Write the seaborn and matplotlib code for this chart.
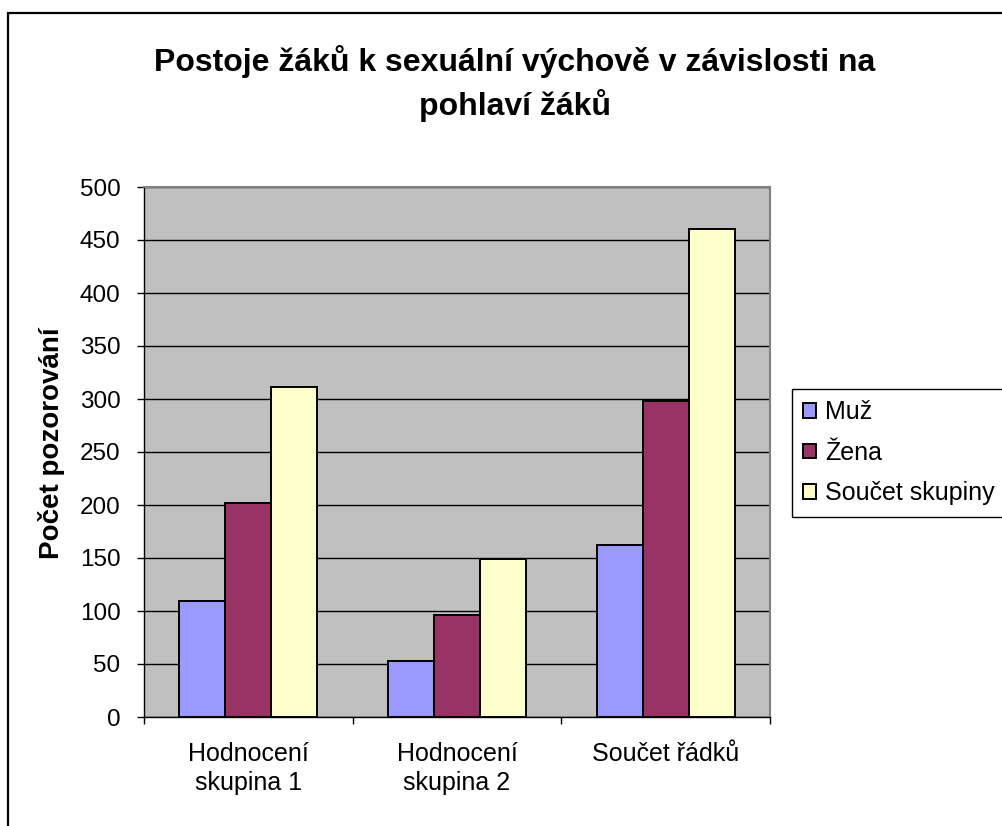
import matplotlib
matplotlib.use("Agg")
import matplotlib.pyplot as plt
import pandas as pd
import seaborn as sns
from matplotlib.patches import Rectangle

categories = ["Hodnocení\nskupina 1", "Hodnocení\nskupina 2", "Součet řádků"]
series_names = ["Muž", "Žena", "Součet skupiny"]
muz = [109, 53, 162]
zena = [202, 96, 298]
soucet = [311, 149, 460]
y_ticks = [0, 50, 100, 150, 200, 250, 300, 350, 400, 450, 500]

colors = ["#9999FF", "#993366", "#FFFFCC"]

df = pd.DataFrame({
    "kategorie": categories * 3,
    "skupina": [s for s in series_names for _ in categories],
    "pocet": muz + zena + soucet,
})

sns.set_style("white")
plt.rcParams["font.family"] = ["Liberation Sans", "DejaVu Sans"]
plt.rcParams["text.color"] = "black"
plt.rcParams["xtick.color"] = "black"
plt.rcParams["ytick.color"] = "black"

W, H = 1003, 826
fig = plt.figure(figsize=(W / 100, H / 100), dpi=100)
ax = fig.add_axes([144 / W, 109 / H, 626 / W, 530 / H])
ax.set_facecolor("#C0C0C0")

sns.barplot(
    data=df, x="kategorie", y="pocet", hue="skupina",
    hue_order=series_names, palette=colors, saturation=1,
    width=0.66, edgecolor="black", linewidth=1.4, ax=ax,
)

ax.set_ylim(0, 500)
ax.set_xlim(-0.5, 2.5)
ax.set_yticks(y_ticks)
ax.yaxis.grid(True, color="black", linewidth=1.0)
ax.set_axisbelow(True)
ax.set_xlabel("")
ax.set_ylabel("")

ax.tick_params(axis="y", which="major", direction="out", length=5, width=1,
               color="black", labelsize=17.5, pad=12, left=True)
ax.set_xticks([0, 1, 2])
ax.set_xticklabels(categories, fontsize=18, linespacing=1.25)
ax.tick_params(axis="x", which="major", length=0, pad=18)
ax.set_xticks([-0.5, 0.5, 1.5, 2.5], minor=True)
ax.tick_params(axis="x", which="minor", direction="out", length=5, width=1,
               color="black", bottom=True)

for side in ["top", "right"]:
    ax.spines[side].set_color("#808080")
    ax.spines[side].set_linewidth(1.5)
for side in ["left", "bottom"]:
    ax.spines[side].set_color("black")
    ax.spines[side].set_linewidth(1.0)

fig.text(52 / W, 1 - 443 / H, "Počet pozorování", rotation=90, ha="center",
         va="center", fontsize=20, fontweight="bold")

fig.text(515 / W, 1 - 62 / H, "Postoje žáků k sexuální výchově v závislosti na",
         ha="center", va="center", fontsize=23, fontweight="bold")
fig.text(515 / W, 1 - 106 / H, "pohlaví žáků",
         ha="center", va="center", fontsize=23, fontweight="bold")

leg = ax.legend(
    loc="upper left", bbox_to_anchor=(792 / W, 1 - 389 / H),
    bbox_transform=fig.transFigure, fontsize=18, frameon=True,
    fancybox=False, edgecolor="black", handlelength=0.52, handleheight=0.52,
    handletextpad=0.36, labelspacing=0.66, borderpad=0.45, borderaxespad=0,
)
leg.get_frame().set_linewidth(1.0)
leg.get_frame().set_facecolor("white")
leg.get_frame().set_alpha(1)

fig.patches.append(Rectangle((8 / W, -0.05), 1.1, 1 - 13 / H + 0.05,
                             transform=fig.transFigure, fill=False,
                             edgecolor="black", linewidth=1.6))

fig.savefig("out.png", dpi=100)
